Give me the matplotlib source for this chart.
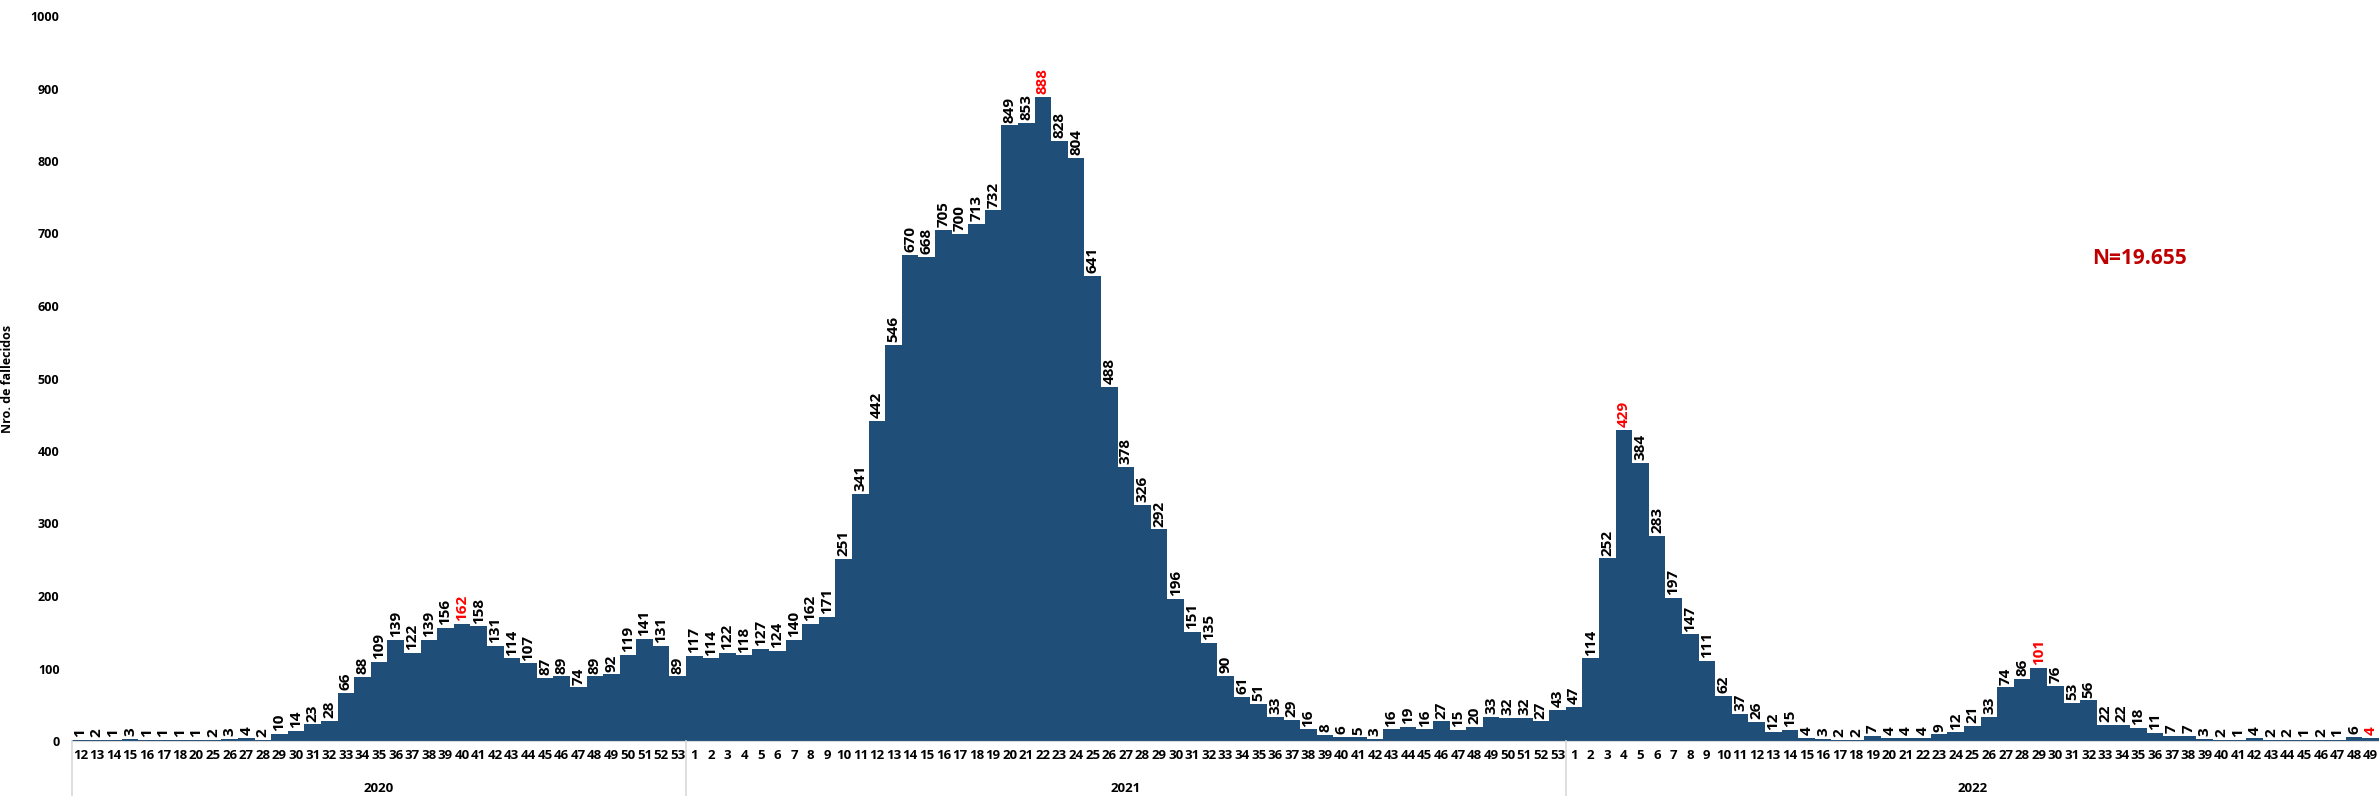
import numpy as np
import matplotlib.pyplot as plt

plt.rcParams['font.family'] = ['Open Sans', 'DejaVu Sans']

weeks_2020 = [12, 13, 14, 15, 16, 17, 18, 20, 25, 26, 27, 28, 29, 30, 31, 32, 33, 34, 35,
              36, 37, 38, 39, 40, 41, 42, 43, 44, 45, 46, 47, 48, 49, 50, 51, 52, 53]
deaths_2020 = [1, 2, 1, 3, 1, 1, 1, 1, 2, 3, 4, 2, 10, 14, 23, 28, 66, 88, 109,
               139, 122, 139, 156, 162, 158, 131, 114, 107, 87, 89, 74, 89, 92, 119, 141, 131, 89]

weeks_2021 = list(range(1, 54))
deaths_2021 = [117, 114, 122, 118, 127, 124, 140, 162, 171, 251, 341, 442, 546, 670, 668,
               705, 700, 713, 732, 849, 853, 888, 828, 804, 641, 488, 378, 326, 292, 196,
               151, 135, 90, 61, 51, 33, 29, 16, 8, 6, 5, 3, 16, 19, 16, 27, 15, 20, 33,
               32, 32, 27, 43]

weeks_2022 = list(range(1, 50))
deaths_2022 = [47, 114, 252, 429, 384, 283, 197, 147, 111, 62, 37, 26, 12, 15, 4, 3, 2, 2,
               7, 4, 4, 4, 9, 12, 21, 33, 74, 86, 101, 76, 53, 56, 22, 22, 18, 11, 7, 7,
               3, 2, 1, 4, 2, 2, 1, 2, 1, 6, 4]

years = ['2020', '2021', '2022']
week_groups = [weeks_2020, weeks_2021, weeks_2022]
death_groups = [deaths_2020, deaths_2021, deaths_2022]

# labels highlighted in red: (year, week)
highlight = [('2020', 40), ('2021', 22), ('2022', 4), ('2022', 29), ('2022', 49)]

labels = []
values = []
label_year = []
for y, w, d in zip(years, week_groups, death_groups):
    labels += [str(k) for k in w]
    values += d
    label_year += [(y, k) for k in w]
values = np.array(values)
x = np.arange(len(values))

fig = plt.figure(figsize=(23.79, 7.96), dpi=100)
ax = fig.add_axes([72 / 2379, 55 / 796, 2307 / 2379, 725 / 796])

ax.bar(x, values, width=1.0, color='#1f4e79', edgecolor='none')

for xi, v, key in zip(x, values, label_year):
    col = 'red' if key in highlight else 'black'
    ax.annotate(str(v), (xi, v), xytext=(0, 2), textcoords='offset points',
                rotation=90, ha='center', va='bottom', fontsize=11,
                fontweight='bold', color=col)

ax.set_xlim(-0.5, len(values) - 0.5)
ax.set_ylim(0, 1000)
ax.set_yticks(np.arange(0, 1001, 100))
ax.tick_params(axis='y', length=0, pad=9, labelsize=9)
for t in ax.get_yticklabels():
    t.set_fontweight('bold')
ax.set_xticks(x)
ax.set_xticklabels(labels, fontsize=9.5, fontweight='bold')
ax.tick_params(axis='x', length=0, pad=6)

ax.set_ylabel('Nro. de fallecidos', fontsize=9, fontweight='bold')
ax.yaxis.set_label_coords(-0.025, 0.5)

for s in ['top', 'right', 'left']:
    ax.spines[s].set_visible(False)
ax.spines['bottom'].set_color('#d9d9d9')

# year groups under the week labels
trans = ax.get_xaxis_transform()
start = 0
bounds = [-0.5]
for y, w in zip(years, week_groups):
    end = start + len(w)
    ax.text((start + end - 1) / 2, -0.066, y, transform=trans, ha='center', va='center',
            fontsize=9.5, fontweight='bold')
    bounds.append(end - 0.5)
    start = end
for b in bounds[:-1]:
    ax.plot([b, b], [0, -0.08], transform=trans, color='#d9d9d9', lw=1.2, clip_on=False)

ax.text(121.2, 665, 'N=19.655', color='#c00000', fontsize=15, fontweight='bold',
        ha='left', va='center')

plt.savefig('out.png', dpi=100)
